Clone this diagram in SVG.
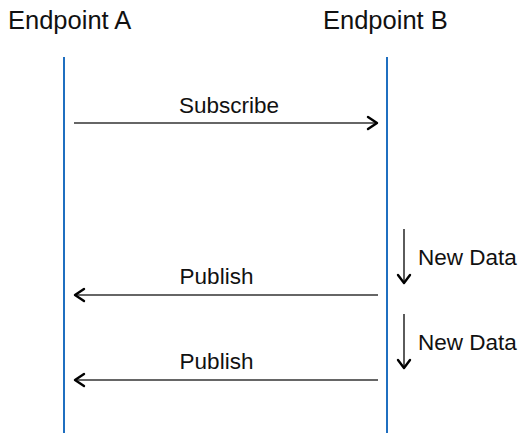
<svg xmlns="http://www.w3.org/2000/svg" width="518" height="433" viewBox="0 0 518 433">
<style>
.t{font-family:"Liberation Sans",Arial,sans-serif;fill:#111}
.h{font-size:25.5px}
.l{font-size:22.5px}
.life{stroke:#1f6fc0;stroke-width:2;fill:none}
.msg{stroke:#333;stroke-width:1.6;fill:none}
.chev{stroke:#000;stroke-width:2.4;fill:none;stroke-linecap:round;stroke-linejoin:round}
</style>
<rect width="518" height="433" fill="#fff"/>
<g id="endpointA">
<text class="t h" x="8" y="29">Endpoint A</text>
<line class="life" x1="64" y1="57" x2="64" y2="433"/>
</g>
<g id="endpointB">
<text class="t h" x="323" y="29">Endpoint B</text>
<line class="life" x1="387" y1="57" x2="387" y2="433"/>
</g>
<g id="connectors">
<line class="msg" x1="74" y1="123" x2="377" y2="123"/>
<polyline class="chev" points="368,117 377,123 368,129"/>
<text class="t l" x="229" y="113" text-anchor="middle">Subscribe</text>
<line class="msg" x1="378" y1="295" x2="75" y2="295"/>
<polyline class="chev" points="84,289 75,295 84,301"/>
<text class="t l" x="216.5" y="284" text-anchor="middle">Publish</text>
<line class="msg" x1="378" y1="380" x2="75" y2="380"/>
<polyline class="chev" points="84,374 75,380 84,386"/>
<text class="t l" x="216.5" y="369" text-anchor="middle">Publish</text>
<line class="msg" x1="404" y1="229" x2="404" y2="283"/>
<polyline class="chev" points="398,275 404,283 410,275"/>
<text class="t l" x="418" y="265">New Data</text>
<line class="msg" x1="404" y1="314" x2="404" y2="368"/>
<polyline class="chev" points="398,360 404,368 410,360"/>
<text class="t l" x="418" y="350">New Data</text>
</g>
</svg>
